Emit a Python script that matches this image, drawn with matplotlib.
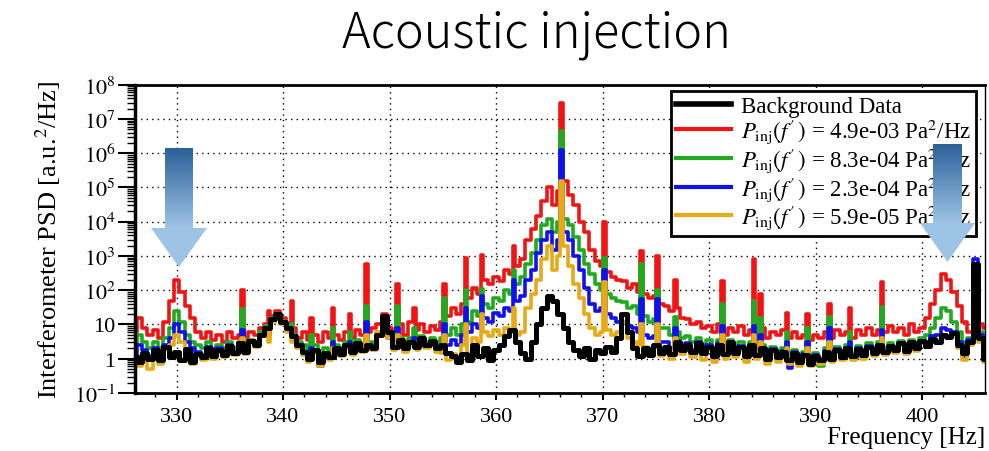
import numpy as np
import matplotlib
matplotlib.use('Agg')
import matplotlib.pyplot as plt
from matplotlib.patches import Polygon
from matplotlib.ticker import FixedLocator, LogLocator, MultipleLocator, NullFormatter

plt.rcParams['font.family'] = ['Liberation Serif', 'DejaVu Serif']
plt.rcParams['mathtext.fontset'] = 'stix'

# frequency grid [Hz], 0.5 Hz steps from 326.0 to 406.0
freq = np.arange(326.0, 406.01, 0.5)

# background (no injection)
psd_bg = [
    1.2, 0.8, 1.5, 1.0,   1.8, 0.9, 2.2, 1.1,   1.6, 0.9, 1.9, 0.8,   1.4, 1.1, 2.0, 1.2,
    1.8, 1.3, 2.4, 1.5,   2.8, 1.6, 3.2, 2.5,   5.0, 8.0, 14, 20,     12, 8.0, 4.5, 2.5,
    1.6, 1.0, 1.8, 0.8,   1.5, 1.1, 2.0, 1.4,   2.5, 1.6, 2.8, 1.8,   2.6, 2.0, 5.0, 18,
    6.0, 2.2, 3.5, 2.0,   3.0, 2.2, 4.0, 2.5,   3.2, 2.0, 2.5, 1.5,   1.2, 0.8, 1.4, 0.9,
    2.5, 1.2, 2.0, 0.9,   1.8, 2.5, 4.5, 7.0,   3.0, 1.5, 1.0, 3.0,   10, 30, 70, 50,
    20, 8.0, 3.0, 1.8,    1.2, 2.0, 1.0, 1.8,   1.5, 2.2, 1.6, 4.0,   20, 6.0, 2.0, 1.2,
    2.0, 1.3, 2.5, 1.5,   2.2, 1.4, 3.0, 1.8,   2.5, 1.6, 2.8, 1.5,   2.2, 1.2, 2.6, 1.4,
    3.0, 1.5, 2.2, 1.2,   2.5, 1.3, 2.0, 1.0,   1.8, 1.1, 1.6, 0.9,   1.5, 0.8, 1.3, 0.7,
    1.2, 0.9, 1.6, 1.0,   1.8, 1.1, 2.0, 1.2,   1.9, 1.3, 2.2, 1.5,   2.5, 1.6, 2.3, 1.8,
    2.8, 1.7, 3.0, 2.0,   3.2, 2.4, 3.8, 3.0,   5.0, 4.2, 5.5, 2.5,   1.5, 3.0, 600, 4.0,
    1.0,
]

# P_inj = 4.9e-03 Pa^2/Hz
psd_red = [
    6, 15, 8, 5,          7, 4, 12, 50,         200, 90, 35, 15,      6, 4, 6, 3.5,
    5, 3, 6, 4,           5, 4, 6, 5,           8, 10, 18, 25,        15, 10, 8, 4,
    6, 3.5, 5, 3,         6, 4, 5, 3.5,         6, 4, 7, 5,           6, 8, 10, 20,
    8, 6, 10, 5,          12, 7, 10, 6,         9, 7, 12, 18,         30, 20, 40, 60,
    120, 80, 200, 150,    250, 180, 400, 300,   500, 800, 3000, 6000, 15000, 40000, 100000, 30000,
    80000, 150000, 60000, 30000,  10000, 5000, 1500, 700,  500, 350, 250, 200,  180, 120, 150, 90,
    80, 60, 70, 40,       35, 25, 30, 15,       14, 10, 12, 8,        9, 6, 10, 5,
    8, 6, 9, 5,           7, 5, 8, 4,           6, 5, 7, 4,           6, 4, 5, 3.5,
    5, 4, 6, 4,           7, 5, 6, 4,           7, 5, 8, 5,           7, 6, 9, 6,
    8, 5, 10, 6,          8, 15, 40, 100,       300, 200, 90, 35,     12, 6, 500, 10,
    8,
]

# P_inj = 8.3e-04 Pa^2/Hz
psd_green = [
    2.5, 5, 3, 2,         3, 2, 4, 8,           25, 12, 5, 3,         2.5, 2, 3, 1.8,
    2.5, 2, 3, 2,         3, 2.5, 3.5, 3,       6, 9, 15, 20,         13, 9, 5, 3,
    2.5, 1.5, 2.5, 1.2,   2, 1.6, 2.5, 2,       3, 2, 3.5, 2.5,       3, 3, 6, 15,
    5, 3, 4, 2.5,         4, 3, 4.5, 3,         4, 3, 4, 5,           8, 5, 10, 12,
    25, 18, 40, 30,       60, 50, 100, 80,      150, 250, 600, 1200,  3000, 8000, 12000, 5000,
    10000, 12000, 8000, 3500,  1500, 600, 300, 150,  100, 80, 60, 50,  45, 30, 35, 20,
    18, 12, 14, 8,        8, 5, 6, 4,           4.5, 3, 4, 2.5,       3.5, 2, 3.5, 2,
    3.5, 2, 3, 1.8,       3, 1.8, 2.5, 1.5,     2.2, 1.4, 2, 1.2,     1.8, 1.0, 1.6, 0.8,
    1.5, 0.6, 2, 1.2,     2.2, 1.4, 2.5, 1.5,   2.4, 1.6, 2.8, 1.8,   3, 2, 2.8, 2.2,
    3.2, 2, 3.5, 2.5,     4, 5, 8, 15,          30, 25, 12, 6,        3, 4, 500, 6,
    2,
]

# P_inj = 2.3e-04 Pa^2/Hz
psd_blue = [
    1.5, 2.5, 1.8, 1.2,   2, 1.3, 2.5, 4,       10, 6, 3, 2,          1.6, 1.2, 2.2, 1.3,
    2, 1.4, 2.5, 1.6,     2.8, 1.8, 3.2, 2.6,   5, 8, 13, 17,         11, 7, 4, 2.2,
    1.5, 0.9, 1.6, 0.6,   1.4, 1.0, 1.8, 1.3,   2.3, 1.5, 2.6, 1.8,   2.5, 2.2, 5, 14,
    4, 2.2, 3, 1.8,       3, 2, 3.5, 2.4,       3, 2, 2.5, 2.5,       3.5, 2.5, 5, 6,
    10, 8, 15, 12,        22, 18, 30, 25,       50, 70, 200, 400,     1200, 3000, 5000, 1500,
    3000, 5000, 3000, 1000,  400, 120, 40, 25,  30, 20, 15, 12,       20, 9, 8, 6,
    5, 4, 4.5, 3,         3, 2, 3.2, 2,         2.8, 1.8, 3, 1.6,     2.5, 1.3, 2.8, 1.5,
    3, 1.6, 2.4, 1.3,     2.6, 1.4, 2.1, 1.1,   1.9, 1.0, 1.7, 0.55,  1.6, 0.9, 1.4, 0.8,
    1.3, 1.0, 1.7, 1.1,   1.9, 1.2, 2.1, 1.3,   2.0, 1.4, 2.3, 1.6,   2.6, 1.7, 2.4, 1.9,
    2.9, 1.8, 3.1, 2.1,   3.4, 2.8, 4.5, 5,     8, 7, 6, 3,           1.2, 3.5, 800, 5,
    1.5,
]

# P_inj = 5.9e-05 Pa^2/Hz
psd_orange = [
    0.9, 0.6, 1.2, 0.5,   1.3, 0.7, 1.8, 2.5,   5, 3, 1.8, 0.7,       1.2, 0.9, 1.7, 1.0,
    1.5, 1.1, 2.0, 1.3,   2.4, 1.4, 2.8, 2.2,   4.5, 7, 12, 16,       10, 6, 3.5, 2,
    1.3, 0.8, 1.5, 0.6,   1.2, 0.9, 1.6, 1.2,   2.1, 1.3, 2.4, 1.6,   2.2, 1.8, 6, 15,
    4, 1.8, 2.8, 1.6,     2.6, 1.8, 3.2, 2.0,   2.6, 1.6, 1.5, 0.9,   1.4, 1.0, 2.5, 1.5,
    4, 3, 6, 4.5,         7, 5, 8, 6,           5, 6, 30, 80,         200, 800, 2000, 400,
    1000, 2000, 500, 150,  60, 20, 8, 5,        6, 7, 5, 6,           12, 4, 3, 2.5,
    2.2, 1.3, 2, 1.2,     1.8, 1.0, 2.5, 1.4,   2, 1.1, 2.4, 0.9,     1.8, 0.8, 2.2, 1.0,
    2.6, 1.1, 1.8, 0.8,   2, 1.0, 1.6, 0.7,     1.4, 0.8, 1.3, 0.7,   1.2, 0.6, 1.0, 0.6,
    0.9, 0.7, 1.3, 0.8,   1.5, 0.9, 1.7, 0.9,   1.6, 1.0, 1.9, 1.2,   2.2, 1.3, 2.0, 1.5,
    2.5, 1.4, 2.7, 1.7,   2.9, 2.2, 3.5, 3.5,   5, 4.5, 4.5, 2,       0.9, 2.5, 500, 3,
    0.8,
]

# narrow lines on top of the injected spectra [Hz] and their heights
spike_freq = [336.1, 338.6, 340.9, 342.6, 344.6, 346.3, 347.9, 350.7, 352.4, 355.1,
              357.1, 358.6, 361.6, 366.05, 370.1, 373.6, 375.1, 376.9, 381.3, 384.2,
              384.9, 387.4, 389.2, 391.4, 393.2, 396.2]
spike_red = [100, 25, 50, 15, 30, 20, 600, 150, 30, 150,
             900, 1100, 2000, 3e7, 10000, 1400, 1000, 200, 190, 800,
             80, 22, 20, 40, 30, 170]
spike_green = [28, 8, 10, 5, 8, 6, 35, 35, 8, 60,
               100, 110, 400, 4.5e6, 900, 600, 100, 17, 40, 50,
               15, 6, 8, 17, 6, 33]
spike_blue = [7, 5, 5, 2, 3, 3, 12, 8, 4, 10,
              30, 70, 200, 1.2e6, 400, 55, 55, 8, 9, 9,
              5, 3, 3, 8, 3, 7]
spike_orange = [4, 3, 3, 1.5, 2, 2, 5, 5, 3, 5,
                10, 20, 30, 1.5e5, 170, 10, 10, 4, 5, 5,
                3, 2, 2, 3, 2, 4]

labels = ['Background Data',
          r"$P_{\rm inj}(f'\,)$ = 4.9e-03 Pa$^2$/Hz",
          r"$P_{\rm inj}(f'\,)$ = 8.3e-04 Pa$^2$/Hz",
          r"$P_{\rm inj}(f'\,)$ = 2.3e-04 Pa$^2$/Hz",
          r"$P_{\rm inj}(f'\,)$ = 5.9e-05 Pa$^2$/Hz"]
colors = ['black', '#f21414', '#1faa1f', '#1010f0', '#e8aa14']


def merge(base, spikes):
    f = np.concatenate([freq, spike_freq])
    v = np.concatenate([base, spikes])
    order = np.argsort(f)
    return f[order], v[order]


fig = plt.figure(figsize=(9.89, 4.52), dpi=100)
ax = fig.add_axes([135 / 989, 1 - 394 / 452, 850 / 989, 308.3 / 452])

handles = {}
series = [(psd_red, spike_red), (psd_green, spike_green), (psd_blue, spike_blue), (psd_orange, spike_orange)]
for i, (base, spk) in enumerate(series):
    f, v = merge(base, spk)
    handles[i + 1], = ax.plot(f, v, drawstyle='steps-mid', color=colors[i + 1], lw=2.6)
handles[0], = ax.plot(freq, psd_bg, drawstyle='steps-mid', color='black', lw=3.6)

ax.set_yscale('log')
ax.set_xlim(326.1, 405.9)
ax.set_ylim(1e-1, 1e8)

ax.yaxis.set_major_locator(FixedLocator([10.0 ** k for k in range(-1, 9)]))
ytl = [r'$10^{-1}$', '1', '10'] + [r'$10^{%d}$' % k for k in range(2, 9)]
ax.set_yticklabels(ytl)
ax.yaxis.set_minor_locator(LogLocator(base=10, subs=np.arange(2, 10), numticks=30))
ax.yaxis.set_minor_formatter(NullFormatter())
ax.xaxis.set_major_locator(MultipleLocator(10))
ax.xaxis.set_minor_locator(MultipleLocator(2))

ax.tick_params(axis='y', which='major', length=12, width=1.5, labelsize=16, pad=2)
ax.tick_params(axis='y', which='minor', length=6, width=1.0)
ax.tick_params(axis='x', which='major', length=5, width=1.5, labelsize=16, pad=5)
ax.tick_params(axis='x', which='minor', length=3, width=1.0)

ax.grid(True, which='major', color='black', linestyle=(0, (1, 3)), linewidth=1.0)
ax.spines['left'].set_linewidth(2.5)
ax.spines['bottom'].set_linewidth(2.0)
ax.spines['top'].set_linewidth(2.0)
ax.spines['right'].set_linewidth(1.0)

ax.set_ylabel('Interferometer PSD [a.u.$^2$/Hz]', fontsize=19, labelpad=8)
ax.set_xlabel('Frequency [Hz]', fontsize=18, loc='right', labelpad=0)

leg = ax.legend([handles[k] for k in range(5)], labels, loc='upper right',
                bbox_to_anchor=(0.9894, 0.9796), borderaxespad=0, fontsize=16.5,
                fancybox=False, framealpha=1, edgecolor='black',
                handlelength=2.4, handletextpad=0.45, labelspacing=0.0,
                borderpad=0.2)
leg.get_frame().set_linewidth(2.0)
for lh in leg.get_lines():
    lh.set_linewidth(3.0)
leg.get_lines()[0].set_linewidth(4.0)

fig.text(536 / 989, 1 - 47 / 452, 'Acoustic injection', ha='center', va='baseline',
         fontsize=35, family=['Noto Sans CJK JP', 'DejaVu Sans'], fontweight='light')

# gradient arrows drawn in figure pixel coordinates
ov = fig.add_axes([0, 0, 1, 1], zorder=10)
ov.set_xlim(0, 989)
ov.set_ylim(452, 0)
ov.axis('off')
ov.patch.set_alpha(0)

dark = np.array([0.17, 0.38, 0.60])
light = np.array([0.62, 0.77, 0.90])
arrows = [(165, 193, 149, 229, 151, 207, 268), (933, 962, 145, 224, 920, 975, 263)]
for sx0, sx1, top, hs, hx0, hx1, tip in arrows:
    cx = (hx0 + hx1) / 2
    poly = Polygon([(sx0, top), (sx1, top), (sx1, hs), (hx1, hs), (cx, tip),
                    (hx0, hs), (sx0, hs)], closed=True, facecolor='none', edgecolor='none')
    ov.add_patch(poly)
    rows = np.arange(top, tip + 1)
    t = np.clip((rows - top) / (hs - top), 0, 1)[:, None]
    img = (dark * (1 - t) + light * t)[:, None, :]
    im = ov.imshow(img, extent=(hx0, hx1, tip, top), aspect='auto', origin='upper',
                   interpolation='bilinear')
    im.set_clip_path(poly)
ov.set_xlim(0, 989)
ov.set_ylim(452, 0)

fig.savefig('out.png', dpi=100)
